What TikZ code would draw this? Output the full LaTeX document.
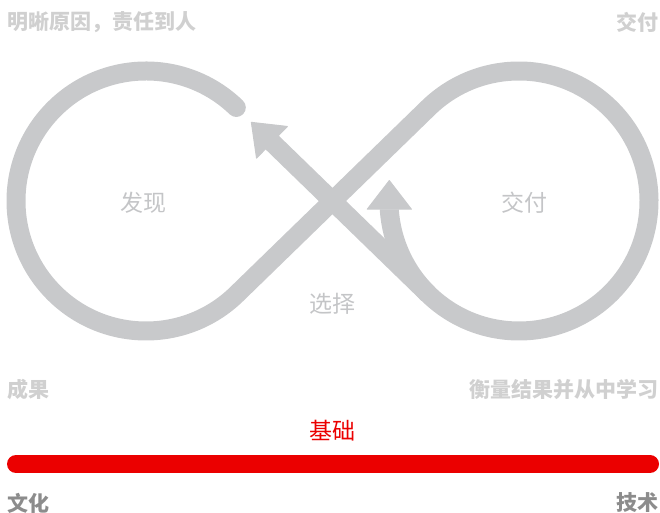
\documentclass[tikz,border=0pt]{standalone}
\usepackage{fontspec}
\setmainfont{Noto Sans CJK SC}
\usetikzlibrary{arrows.meta,positioning}
\definecolor{loopgray}{RGB}{200,201,203}
\definecolor{stagegray}{RGB}{196,197,199}
\definecolor{cornergray}{RGB}{208,208,208}
\definecolor{footgray}{RGB}{140,140,140}
\definecolor{basered}{RGB}{235,0,0}

\begin{document}
\begin{tikzpicture}[x=1pt,y=1pt,
  loop/.style={draw=loopgray,line width=19pt,line join=round},
  looparrow/.style={-{Triangle[length=30pt,width=46pt,line width=1pt,round]}},
  stage/.style={font=\fontsize{23}{28}\selectfont,text=stagegray,inner sep=0pt},
  corner/.style={font=\bfseries\fontsize{21}{25}\selectfont,text=cornergray,inner sep=0pt},
  redbar/.style={draw=basered,line width=18pt,line cap=round}]

\useasboundingbox (0,0) rectangle (660,513);

\coordinate (L) at (146,312);
\coordinate (R) at (519,312);

% the loop
\draw [loop,line cap=round,looparrow] ([shift={(46:130)}]L)
  arc [start angle=46,end angle=314,radius=130]
  -- ([shift={(134.2:130)}]R)
  arc [start angle=134.2,end angle=-134.2,radius=130]
  -- (251,391);
\draw [loop,looparrow] ([shift={(225.8:130)}]R)
  arc [start angle=225.8,end angle=184,radius=130] -- ++(0,30);

\node [stage] (find) at (143,310) {发现};
\node [stage] (deliver) at (524,310) {交付};
\node [stage] (choose) at (332,209) {选择};

% corners
\foreach \n/\x/\y/\a/\t in {tl/7/491/west/{明晰原因，责任到人},tr/659/491/east/{交付},
  bl/7/123/west/{成果},br/659/123/east/{衡量结果并从中学习}}
  \node [corner,anchor=\a] (\n) at (\x,\y) {\t};

% foundation
\node [stage,text=basered] (base) at (332,82) {基础};
\coordinate (b1) at (16,49);
\coordinate (b2) at (650,49);
\draw [redbar] (b1) -- (b2);
\node [corner,text=footgray,anchor=west] (culture) at (7,10) {文化};
\node [corner,text=footgray,anchor=east] (tech) at (659,10) {技术};

\end{tikzpicture}
\end{document}
